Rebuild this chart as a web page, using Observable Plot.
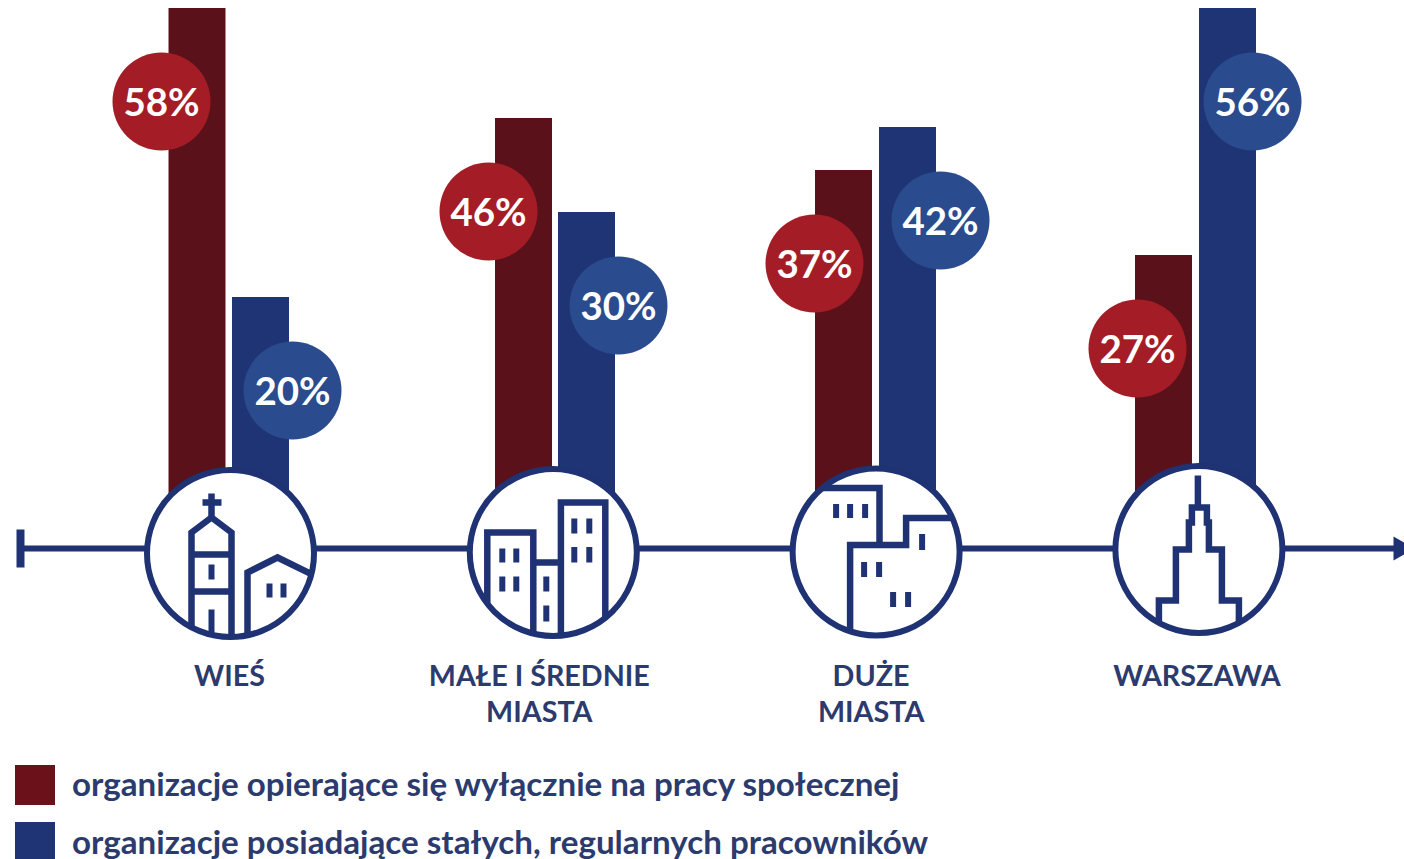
<!DOCTYPE html>
<html lang="pl"><head><meta charset="utf-8">
<script src="https://cdn.jsdelivr.net/npm/d3@7"></script>
<script src="https://cdn.jsdelivr.net/npm/@observablehq/plot@0.6"></script>
<style>
html,body{margin:0;padding:0;background:#fff;width:1404px;height:859px;overflow:hidden;font-family:Lato,sans-serif}
#legend{position:absolute;left:0;top:0;width:1404px;height:859px;pointer-events:none}
.key{position:absolute;left:15px;width:40px;height:40px}
.lab{position:absolute;left:72px;font:700 33.15px/40px Lato,sans-serif;color:#2c3b6e;white-space:nowrap}
svg{display:block}
</style></head><body>
<div id="chart"></div>
<div id="legend"></div>
<script>
// --- data ---
const categories = ["WIEŚ", "MAŁE I ŚREDNIE\nMIASTA", "DUŻE\nMIASTA", "WARSZAWA"];
const volunteerOnly = [58, 46, 37, 27];
const paidStaff = [20, 30, 42, 56];
const seriesNames = [
  "organizacje opierające się wyłącznie na pracy społecznej",
  "organizacje posiadające stałych, regularnych pracowników"
];

// --- the original's bars are not to a strict scale: a piecewise y scale reproduces it ---
const yDomain = [0, 20, 27, 30, 37, 42, 46, 56, 58];
const yRange = [548, 297, 255, 212, 170, 127, 118, 8, 8];

// --- style and layout ---
const NAVY = "#1f3273", TEXT = "#2c3b6e";
const barColors = ["#5a1119", "#1e3475"], bubbleColors = ["#a41d26", "#2a4b8d"], keyColors = ["#6a1119", "#1e3475"];
const barDx = [[-33, 30.5], [-29.3, 33.7], [-32.1, 31.9], [-34.9, 29.1]];
const bubbleDx = [[-69, 62], [-64.8, 65.2], [-61.6, 64.4], [-61.4, 53.6]];
const iconDy = [5, 4, 3.5, 1];
const labelDx = [-1, -14, -5, -2];

const W = "%231f3273";
const clip = `<clipPath id='c'><circle r='84'/></clipPath>`;
const icon = body => "data:image/svg+xml," + `<svg xmlns='http://www.w3.org/2000/svg' viewBox='-90 -90 180 180'>${clip}<g clip-path='url(%23c)' fill='none' stroke='${W}' stroke-width='6.5' stroke-linejoin='miter'>${body}</g></svg>`;
const win = (x, y1, y2) => `M${x},${y1}V${y2}`;
const winG = d => `<path d='${d}' stroke-width='6'/>`;
const icons = [
  icon(`<path d='M-39,90V-21L-19,-36L1,-21V90M-39,1H1M-39,38H1M-19,-36V-60M-28,-51H-9'/>` +
       `<path d='M17,90V19L47,4L90,25'/>` +
       winG(win(-19,11,26)+win(-19,56,90)+win(39,30,44)+win(53,30,44))),
  icon(`<path d='M-66,90V-20H-20V90M-20,10H7.6M7.6,90V-50H52V90'/>` +
       winG(win(-51,-4,10)+win(-37,-4,10)+win(-51,24,39)+win(-37,24,39)+win(-7,24,39)+win(-7,53,69)+win(21,-34,-19)+win(36,-34,-19)+win(21,-5.5,10)+win(36,-5.5,10))),
  icon(`<path d='M-90,-64H3.4V-7M-26,90V-7H30V-34H90'/>` +
       winG(win(-40,-48,-34)+win(-26,-48,-34)+win(-11,-48,-34)+win(46,-18,-2)+win(-12,10,25)+win(3,10,25)+win(17,40,55)+win(32,40,55))),
  icon(`<path d='M-40,90V51H-23V0H-10V-27H-7V-42H8V-27H10V0H23V51H40V90M-1,-74V-42'/>`)
];

const rows = categories.flatMap((cat, i) => [volunteerOnly[i], paidStaff[i]].map((value, s) => ({
  cat, value, s, dx: barDx[i][s], bx: bubbleDx[i][s], label: value + "%"
})));
const hub = categories.map((cat, i) => ({cat, y: 0, src: icons[i], dy: iconDy[i], ldx: labelDx[i]}));

const capSymbol = {draw(c) { c.rect(-4, -19, 8, 38); }};
const R = 83.5;

const marks = [
  ...rows.map(r => Plot.barY([r], {x: "cat", y: "value", fill: barColors[r.s], dx: r.dx})),
  Plot.ruleY([0], {stroke: NAVY, strokeWidth: 6}),
  Plot.dot([0], {y: d => d, frameAnchor: "left", symbol: capSymbol, fill: NAVY, r: 1}),
  Plot.dot([0], {y: d => d, frameAnchor: "right", symbol: "triangle", rotate: 90, fill: NAVY, r: 9, dx: -4}),
  ...hub.flatMap(h => [
    Plot.dot([h], {x: "cat", y: "y", r: R, fill: "white", stroke: NAVY, strokeWidth: 6, dy: h.dy}),
    Plot.image([h], {x: "cat", y: "y", src: "src", width: 180, height: 180, dy: h.dy}),
    Plot.text([h], {x: "cat", y: "y", text: "cat", fill: TEXT, fontSize: 28.7, fontWeight: 700, fontFamily: "Lato", lineHeight: 1.25, lineAnchor: "top", dy: 112, dx: h.ldx})
  ]),
  ...rows.flatMap(r => [
    Plot.dot([r], {x: "cat", y: "value", r: 49, fill: bubbleColors[r.s], dx: r.bx, dy: 93}),
    Plot.text([r], {x: "cat", y: "value", text: "label", fill: "white", fontSize: 38.5, fontWeight: 700, fontFamily: "Lato", dx: r.bx, dy: 95})
  ])
];

const plot = Plot.plot({
  width: 1404, height: 745,
  marginLeft: 20, marginRight: 0, marginTop: 0, marginBottom: 0,
  style: {background: "white", overflow: "visible"},
  x: {type: "band", round: false, domain: categories, range: [68.6, 1359.8], paddingInner: 0.8235, paddingOuter: 0.41175, axis: null},
  y: {type: "linear", domain: yDomain, range: yRange, axis: null},
  marks
});
document.getElementById("chart").appendChild(plot);

const legend = document.getElementById("legend");
seriesNames.forEach((name, i) => {
  const top = 765 + i * 57;
  legend.insertAdjacentHTML("beforeend",
    `<div class="key" style="top:${top}px;background:${keyColors[i]}"></div><div class="lab" style="top:${top - 1 - (1 - i)}px">${name}</div>`);
});
</script>
</body></html>
